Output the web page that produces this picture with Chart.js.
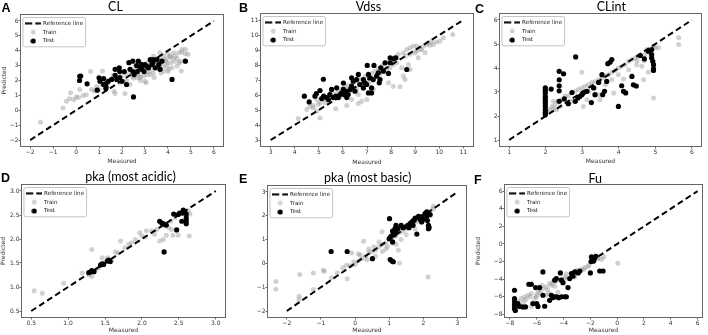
<!DOCTYPE html>
<html lang="en">
  <head>
    <meta charset="UTF-8" />
    <title>Predicted vs measured</title>
    <script src="https://cdn.jsdelivr.net/npm/chart.js@4.4.0/dist/chart.umd.min.js"></script>
    <style>
      body {
        margin: 0;
        width: 708px;
        height: 335px;
        overflow: hidden;
        position: relative;
        background-color: #ffffff;
      }
      canvas {
        position: absolute;
      }
    </style>
  </head>
  <body>
    <canvas id="cA"></canvas>
    <canvas id="cB"></canvas>
    <canvas id="cC"></canvas>
    <canvas id="cD"></canvas>
    <canvas id="cE"></canvas>
    <canvas id="cF"></canvas>

    <script>
      // ---- text ----
      const panelLetters = ["A", "B", "C", "D", "E", "F"];
      const panelTitles = ["CL", "Vdss", "CLint", "pka (most acidic)", "pka (most basic)", "Fu"];
      const legendLabels = ["Reference line", "Train", "Test"];
      const xAxisTitle = "Measured";
      const yAxisTitle = "Predicted";

      // ---- CL ----
      const clTicks = [-2, -1, 0, 1, 2, 3, 4, 5, 6];
      const clRange = [-2.4, 6.4];
      const clRef = [[-2, -2], [6, 6]];
      const clTrain = [
        [-1.55, -0.81], [-0.57, 0.16], [-0.42, 0.61], [-0.28, 0.77], [-0.24, 1.17], [-0.1, 0.7], [0.0, 0.9],
        [0.1, 0.85], [0.16, 1.4], [0.3, 1.0], [0.45, 1.05], [0.63, 2.6], [0.67, 1.4], [0.8, 1.3], [0.89, 1.58],
        [1.0, 1.4], [1.11, 1.73], [1.15, 2.63], [1.3, 1.6], [1.4, 1.85], [1.47, 2.05], [1.62, 2.34], [1.65, 1.28],
        [1.7, 1.12], [1.76, 2.2], [1.84, 2.7], [1.91, 1.85], [1.99, 2.3], [2.06, 1.95], [2.13, 1.12], [2.2, 2.0],
        [2.35, 1.73], [2.5, 2.15], [2.57, 2.97], [2.79, 2.18], [2.79, 3.2], [2.8, 2.0], [2.79, 2.3], [2.93, 2.75],
        [2.95, 2.3], [3.0, 1.95], [3.05, 1.85], [3.1, 2.4], [3.16, 2.6], [3.23, 2.4], [3.37, 2.5], [3.37, 3.2],
        [3.37, 3.63], [3.5, 3.0], [3.52, 2.86], [3.6, 2.75], [3.65, 3.38], [3.65, 3.87], [3.66, 3.08], [3.8, 2.95],
        [3.8, 3.7], [3.81, 3.42], [3.81, 2.63], [3.96, 2.97], [3.96, 3.5], [3.96, 3.2], [4.03, 2.75], [4.1, 3.6],
        [4.1, 3.64], [4.13, 3.2], [4.18, 2.86], [4.25, 3.87], [4.3, 3.3], [4.32, 3.64], [4.4, 2.97], [4.47, 3.87],
        [4.5, 3.2], [4.54, 3.3], [4.58, 2.63], [4.6, 3.9], [4.61, 4.09], [4.76, 3.8], [4.76, 4.1], [4.88, 3.76],
        [2.4, 2.5], [2.6, 2.7], [2.7, 2.45], [3.0, 2.8], [3.2, 3.0], [3.3, 2.75], [3.45, 3.3], [3.55, 3.5],
        [3.7, 3.3], [3.9, 3.3], [4.0, 3.8], [4.2, 3.5], [4.4, 3.5], [2.2, 2.4], [2.45, 2.3], [2.9, 2.9],
        [3.1, 3.2], [2.65, 2.2], [3.4, 2.2], [3.7, 2.5], [4.0, 2.6]
      ];
      const clTest = [
        [0.16, 2.28], [0.15, 2.0], [0.2, 2.3], [0.48, 1.78], [0.92, 1.35], [1.0, 2.18], [1.04, 1.95], [1.2, 2.13],
        [1.2, 1.73], [1.3, 1.8], [1.3, 1.57], [1.3, 1.44], [1.4, 1.95], [1.55, 2.07], [1.7, 2.75], [1.7, 2.35],
        [1.77, 2.07], [1.88, 2.85], [1.9, 2.2], [1.9, 2.6], [2.0, 1.95], [2.1, 2.6], [2.2, 1.73], [2.3, 3.2],
        [2.35, 2.75], [2.47, 3.3], [2.47, 2.6], [2.5, 0.9], [2.53, 2.4], [2.64, 3.0], [2.67, 2.6], [2.71, 3.3],
        [2.79, 2.85], [2.86, 3.07], [2.86, 2.75], [2.96, 2.6], [3.0, 3.07], [3.08, 2.95], [3.15, 2.85], [3.23, 3.4],
        [3.3, 3.07], [3.34, 3.2], [3.37, 3.4], [3.45, 2.85], [3.52, 3.4], [3.6, 3.07], [3.66, 2.75], [3.74, 3.3],
        [4.18, 2.07], [4.76, 3.3]
      ];

      // ---- Vdss ----
      const vdssTicks = [3, 4, 5, 6, 7, 8, 9, 10, 11];
      const vdssRange = [2.6, 11.4];
      const vdssRef = [[3, 3], [11, 11]];
      const vdssTrain = [
        [4.15, 4.43], [4.5, 5.03], [4.63, 5.25], [4.77, 5.3], [4.91, 5.7], [5.05, 5.48], [5.19, 5.7], [5.33, 5.81],
        [5.46, 6.1], [5.6, 6.14], [5.7, 5.08], [5.81, 6.26], [5.95, 6.41], [6.09, 6.55], [6.22, 6.63], [6.36, 5.7],
        [6.43, 6.81], [6.57, 6.92], [6.64, 6.03], [6.71, 7.04], [6.78, 5.59], [6.92, 7.21], [6.99, 5.7], [7.06, 7.3],
        [7.19, 7.44], [7.33, 7.59], [7.47, 7.75], [7.61, 7.93], [7.75, 8.04], [7.89, 8.2], [8.02, 8.37], [8.16, 8.53],
        [8.3, 8.71], [8.37, 6.55], [8.44, 7.82], [8.51, 8.82], [8.58, 7.04], [8.65, 9.04], [8.72, 8.04], [8.79, 9.15],
        [8.92, 9.26], [8.99, 8.82], [9.06, 9.26], [9.13, 8.48], [9.2, 9.04], [9.34, 9.26], [9.41, 8.82], [9.48, 9.37],
        [9.55, 9.49], [9.62, 9.31], [9.69, 9.6], [9.75, 9.37], [10.56, 10.04], [6.16, 6.14], [6.29, 6.26], [6.5, 6.48],
        [6.57, 6.37], [6.78, 6.59], [6.85, 6.7], [7.12, 6.92], [7.26, 7.08], [7.4, 7.26], [7.54, 7.37], [7.68, 7.59],
        [7.82, 7.7], [7.96, 7.82], [8.09, 8.04], [8.23, 8.15], [8.58, 8.59], [8.79, 8.71], [9.06, 8.93], [9.27, 9.04],
        [9.89, 9.53], [10.03, 9.6], [10.17, 9.82], [5.74, 5.92], [5.26, 5.48], [4.98, 5.37], [4.77, 5.14], [4.91, 4.92],
        [5.4, 5.59], [5.95, 5.92], [6.16, 5.3], [6.64, 5.43], [7.26, 6.37], [8.09, 6.59], [8.51, 7.26], [8.79, 7.7],
        [7.89, 6.81], [5.05, 4.47]
      ];
      const vdssTest = [
        [4.4, 5.92], [4.6, 5.54], [4.84, 5.92], [4.9, 6.1], [5.05, 6.3], [5.19, 7.05], [5.12, 5.76], [5.2, 5.93],
        [5.32, 5.83], [5.46, 6.03], [5.53, 6.37], [5.4, 5.7], [5.6, 5.83], [5.71, 5.93], [5.74, 6.48], [5.81, 5.83],
        [5.88, 6.03], [5.95, 6.14], [6.02, 6.37], [6.02, 6.8], [6.05, 6.03], [6.13, 6.25], [6.16, 5.83], [6.22, 6.03],
        [6.3, 6.37], [6.36, 6.59], [6.36, 7.15], [6.43, 6.92], [6.5, 6.25], [6.57, 7.03], [6.64, 7.37], [6.7, 6.7],
        [6.85, 7.03], [6.85, 6.47], [6.92, 6.81], [6.99, 6.7], [7.01, 7.97], [7.06, 7.37], [7.06, 6.14], [7.12, 7.14],
        [7.19, 6.47], [7.19, 6.14], [7.26, 7.03], [7.29, 7.97], [7.4, 7.26], [7.47, 7.48], [7.51, 6.81], [7.54, 7.03],
        [7.57, 7.81], [7.68, 7.59], [7.75, 8.15], [7.89, 7.44], [7.96, 8.48], [7.96, 8.15], [8.1, 8.41], [8.2, 8.48],
        [8.65, 7.7]
      ];

      // ---- CLint ----
      const clintTicks = [1, 2, 3, 4, 5, 6];
      const clintRange = [0.75, 6.25];
      const clintRef = [[1, 1], [6, 6]];
      const clintTrain = [
        [1.99, 2.54], [1.99, 2.33], [1.99, 2.12], [2.04, 2.2], [2.1, 2.26], [2.17, 2.4], [2.21, 2.29], [2.26, 2.47],
        [2.21, 2.61], [2.33, 2.61], [2.44, 2.68], [2.53, 2.82], [2.62, 2.84], [2.72, 2.96], [2.81, 3.03], [2.9, 3.1],
        [2.99, 3.17], [3.03, 2.4], [3.08, 3.24], [2.99, 3.82], [3.13, 2.68], [3.17, 3.3], [3.26, 3.4], [3.35, 3.44],
        [3.45, 3.51], [3.49, 2.68], [3.54, 3.58], [3.63, 3.68], [3.72, 3.72], [3.81, 3.82], [3.86, 2.96], [3.9, 3.9],
        [3.99, 4.0], [4.08, 4.07], [4.13, 3.54], [4.17, 4.14], [4.27, 4.28], [4.36, 4.35], [4.45, 4.42], [4.54, 4.49],
        [4.63, 4.07], [4.68, 3.51], [4.72, 4.56], [4.77, 4.77], [4.81, 3.82], [4.86, 4.63], [4.95, 4.91], [5.0, 4.84],
        [4.95, 2.75], [5.09, 4.84], [5.64, 5.26], [5.64, 4.98], [3.17, 3.03], [3.35, 3.17], [3.63, 3.3], [3.81, 3.51],
        [3.99, 3.72], [4.27, 3.93], [4.49, 4.14], [3.45, 2.89], [2.72, 2.61], [2.4, 2.4], [2.3, 2.26], [4.7, 4.3],
        [4.9, 4.5], [4.5, 4.3], [3.0, 2.95], [2.6, 2.55]
      ];
      const clintTest = [
        [1.99, 3.17], [1.99, 3.07], [1.99, 2.96], [1.99, 2.82], [1.99, 2.71], [1.99, 2.61], [1.99, 2.51], [1.99, 2.4],
        [1.99, 2.26], [1.99, 2.15], [1.99, 2.05], [2.15, 3.12], [2.37, 3.86], [2.37, 3.51], [2.37, 3.26], [2.37, 3.05],
        [2.37, 2.61], [2.49, 3.76], [2.51, 2.71], [2.62, 2.51], [2.72, 2.98], [2.81, 2.61], [2.82, 4.46], [2.88, 2.75],
        [2.94, 2.82], [2.99, 2.89], [3.03, 2.96], [3.13, 3.03], [3.25, 2.56], [3.31, 3.17], [3.35, 2.89], [3.45, 3.4],
        [3.54, 3.72], [3.56, 2.89], [3.61, 3.03], [3.67, 3.44], [3.7, 4.18], [3.76, 4.24], [3.81, 4.35], [3.99, 2.4],
        [4.08, 3.26], [4.13, 3.03], [4.19, 2.96], [4.36, 3.65], [4.4, 3.3], [4.48, 3.25], [4.59, 4.52], [4.7, 4.38],
        [4.81, 4.7], [4.9, 4.77], [4.9, 4.56], [4.9, 4.42], [4.93, 4.28], [4.95, 4.14], [4.95, 3.96], [4.95, 3.9]
      ];

      // ---- pka (most acidic) ----
      const pkaAcidTicks = [0.5, 1.0, 1.5, 2.0, 2.5, 3.0];
      const pkaAcidRange = [0.375, 3.125];
      const pkaAcidRef = [[0.5, 0.5], [3.0, 3.0]];
      const pkaAcidTrain = [
        [0.54, 0.92], [0.65, 0.87], [0.94, 1.08], [1.19, 1.29], [1.28, 1.25], [1.32, 1.78], [1.32, 1.22], [1.37, 1.36],
        [1.41, 1.39], [1.46, 1.61], [1.48, 1.5], [1.53, 1.61], [1.59, 1.54], [1.64, 1.73], [1.68, 1.71], [1.71, 1.96],
        [1.77, 1.82], [1.82, 1.89], [1.86, 1.92], [1.91, 1.99], [1.97, 2.13], [2.0, 2.06], [2.04, 2.04], [2.06, 2.17],
        [2.13, 2.17], [2.17, 2.1], [2.2, 2.2], [2.24, 1.96], [2.29, 1.99], [2.31, 2.27], [2.33, 2.08], [2.36, 2.24],
        [2.39, 2.37], [2.4, 2.2], [2.42, 2.08], [2.45, 2.45], [2.49, 2.08], [2.51, 2.52], [2.58, 2.56], [2.63, 2.59],
        [2.65, 2.52], [2.64, 2.06]
      ];
      const pkaAcidTest = [
        [1.3, 1.31], [1.32, 1.34], [1.35, 1.32], [1.28, 1.3], [1.44, 1.46], [1.46, 1.48], [1.48, 1.47], [1.53, 1.54],
        [1.55, 1.56], [1.57, 1.53], [2.24, 2.37], [2.27, 2.33], [2.3, 2.31], [2.33, 2.29], [2.3, 1.73], [2.43, 2.52],
        [2.47, 2.19], [2.49, 2.51], [2.51, 2.54], [2.55, 2.54], [2.54, 2.37], [2.58, 2.57], [2.6, 2.52], [2.6, 2.44],
        [2.6, 2.38], [2.6, 2.32], [2.56, 2.6]
      ];

      // ---- pka (most basic) ----
      const pkaBaseTicks = [-2, -1, 0, 1, 2, 3];
      const pkaBaseXRange = [-2.55, 3.25];
      const pkaBaseYRange = [-2.25, 3.25];
      const pkaBaseRef = [[-2, -2], [3, 3]];
      const pkaBaseTrain = [
        [-2.32, -0.76], [-2.32, -1.09], [-1.62, -0.47], [-1.64, -1.38], [-1.64, -1.52], [-1.22, -0.4], [-1.22, -1.1],
        [-0.93, -0.29], [-0.9, -0.33], [-0.69, -0.6], [-0.52, -0.4], [-0.23, -0.64], [-0.36, -0.18], [-0.25, -0.08],
        [-0.1, 0.44], [-0.04, 0.06], [0.0, -0.05], [-0.15, -0.1], [0.1, 0.1], [0.1, 0.4], [0.15, 0.35], [0.2, 0.2],
        [0.25, 0.93], [0.3, 0.3], [0.35, 0.15], [0.4, 0.45], [0.4, 0.6], [0.5, 0.5], [0.5, 0.2], [0.55, 0.7],
        [0.6, 0.55], [0.6, 0.3], [0.7, 0.7], [0.7, 0.9], [0.79, 1.33], [0.8, 0.8], [0.8, 0.5], [0.9, 0.85],
        [0.9, 0.6], [0.95, 0.7], [1.0, 1.0], [1.1, 1.1], [1.1, 0.85], [1.2, 1.15], [1.2, 0.8], [1.27, 0.55],
        [1.3, 1.3], [1.3, 0.02], [1.35, 1.0], [1.4, 1.35], [1.5, 1.45], [1.5, 1.2], [1.5, 1.6], [1.6, 1.6],
        [1.7, 1.7], [1.75, 1.45], [1.8, 1.75], [1.9, 1.9], [2.0, 2.0], [2.0, 1.8], [2.1, 2.1], [2.14, -0.57],
        [2.2, 2.2], [2.2, 2.0], [2.29, 2.4], [2.3, 2.3]
      ];
      const pkaBaseTest = [
        [-0.7, 0.5], [-0.23, 0.5], [0.51, 0.2], [1.0, 1.04], [1.01, 1.88], [1.03, 0.16], [1.05, 1.14], [1.08, 0.1],
        [1.1, 1.36], [1.1, 0.9], [1.12, 0.07], [1.12, 1.25], [1.15, 1.2], [1.17, 1.46], [1.2, 1.3], [1.2, 1.6],
        [1.25, 1.45], [1.35, 1.6], [1.4, 1.5], [1.5, 1.55], [1.55, 1.6], [1.58, 1.5], [1.61, 1.67], [1.66, 1.73],
        [1.7, 1.6], [1.71, 1.81], [1.76, 1.9], [1.81, 1.23], [1.86, 1.98], [1.9, 1.85], [1.95, 1.74], [1.95, 1.95],
        [2.0, 1.85], [2.05, 2.09], [2.1, 2.16], [2.1, 1.98], [2.12, 1.8], [2.15, 1.6], [2.15, 1.46], [2.17, 1.5],
        [2.2, 2.05]
      ];

      // ---- Fu ----
      const fuTicks = [-8, -6, -4, -2, 0, 2, 4, 6];
      const fuXRange = [-8.37, 6.33];
      const fuYRange = [-8.3, 6.7];
      const fuRef = [[-2, -2], [6, 6]];
      const fuTrain = [
        [-7.16, -6.21], [-6.91, -6.02], [-6.66, -5.83], [-6.41, -5.64], [-6.16, -6.21], [-5.91, -5.45], [-5.7, -5.6],
        [-5.54, -5.07], [-5.29, -4.88], [-5.04, -4.5], [-4.79, -4.31], [-4.55, -4.2], [-4.42, -5.45], [-4.29, -4.05],
        [-3.92, -3.75], [-3.7, -3.9], [-3.41, -3.56], [-3.16, -3.75], [-2.9, -3.1], [-2.67, -2.91], [-2.42, -2.68],
        [-2.1, -2.41], [-1.42, -1.66], [-1.17, -1.78], [-6.41, -7.1], [-6.1, -6.8], [-6.04, -6.02], [-5.29, -5.83],
        [-5.1, -5.6], [-4.66, -4.8], [0.05, -2.2], [-1.0, -1.45], [-7.4, -6.5], [-7.0, -6.6], [-6.8, -6.3],
        [-6.5, -6.0], [-6.0, -5.8], [-5.8, -5.2], [-5.6, -4.7], [-5.2, -5.2], [-4.9, -4.7], [-4.0, -4.0],
        [-3.8, -3.4], [-3.3, -3.3], [-3.0, -3.0], [-2.5, -2.9], [-2.2, -2.6], [-1.5, -1.6]
      ];
      const fuTest = [
        [-7.66, -5.26], [-7.66, -6.21], [-7.66, -6.59], [-7.66, -6.97], [-7.66, -7.35], [-7.6, -7.55], [-7.41, -6.78],
        [-7.29, -7.1], [-7.04, -7.16], [-6.84, -7.16], [-6.59, -4.58], [-6.41, -4.58], [-6.29, -6.78], [-6.09, -4.96],
        [-6.0, -6.78], [-5.91, -7.1], [-5.79, -4.96], [-5.54, -5.83], [-5.54, -3.18], [-5.41, -7.08], [-5.04, -6.4],
        [-4.91, -5.83], [-4.79, -6.09], [-4.66, -4.12], [-4.54, -3.93], [-4.66, -6.0], [-4.5, -6.0], [-4.36, -6.1],
        [-4.24, -3.29], [-4.16, -4.12], [-4.16, -6.0], [-4.04, -4.4], [-3.91, -6.0], [-3.79, -6.0], [-3.67, -4.96],
        [-3.54, -3.93], [-3.41, -3.37], [-3.29, -3.67], [-3.16, -3.18], [-2.91, -3.29], [-2.79, -3.07], [-2.0, -3.29],
        [-1.92, -1.47], [-1.8, -1.55], [-1.7, -1.65], [-1.85, -1.8], [-1.6, -1.4], [-1.95, -2.0], [-1.75, -1.95],
        [-1.3, -3.07], [-1.05, -3.07]
      ];

      // ---- look ----
      const trainColor = "rgba(140, 140, 140, 0.4)";
      const testColor = "#000000";

      Chart.defaults.font.family = "'DejaVu Sans', sans-serif";

      // box = canvas [left, top, width, height], area = plot frame [left, top, right, bottom] in page px
      const panels = [
        { id: "cA", box: [0, 0, 236, 167], area: [21, 15, 223, 146], letterAt: [1.5, 12.3], titleAt: [115.5, 10.5],
          xTitlePad: 2.1, yTitlePad: 0.6, yTitle: true, digits: 0,
          train: clTrain, test: clTest, ref: clRef, xTicks: clTicks, yTicks: clTicks, xRange: clRange, yRange: clRange },
        { id: "cB", box: [236, 0, 246, 167], area: [261, 14, 473, 146], letterAt: [239, 11.7], titleAt: [368.5, 10.5],
          xTitlePad: 1.1, yTitlePad: 0, yTitle: false, digits: 0,
          train: vdssTrain, test: vdssTest, ref: vdssRef, xTicks: vdssTicks, yTicks: vdssTicks, xRange: vdssRange, yRange: vdssRange },
        { id: "cC", box: [472, 0, 236, 167], area: [500, 14, 701, 146], letterAt: [475, 12.7], titleAt: [611.3, 11],
          xTitlePad: 1.7, yTitlePad: 0, yTitle: false, digits: 0,
          train: clintTrain, test: clintTest, ref: clintRef, xTicks: clintTicks, yTicks: clintTicks, xRange: clintRange, yRange: clintRange },
        { id: "cD", box: [0, 167, 236, 168], area: [22, 185, 225, 317], letterAt: [1, 181.7], titleAt: [130.5, 181],
          xTitlePad: 0.7, yTitlePad: 0, yTitle: true, digits: 1,
          train: pkaAcidTrain, test: pkaAcidTest, ref: pkaAcidRef, xTicks: pkaAcidTicks, yTicks: pkaAcidTicks, xRange: pkaAcidRange, yRange: pkaAcidRange },
        { id: "cE", box: [236, 167, 236, 168], area: [268, 186, 466, 317], letterAt: [239, 183.3], titleAt: [367.7, 182.3],
          xTitlePad: 0.7, yTitlePad: 0, yTitle: false, digits: 0,
          train: pkaBaseTrain, test: pkaBaseTest, ref: pkaBaseRef, xTicks: pkaBaseTicks, yTicks: pkaBaseTicks, xRange: pkaBaseXRange, yRange: pkaBaseYRange },
        { id: "cF", box: [472, 167, 236, 168], area: [505, 185, 702, 317], letterAt: [474, 184.3], titleAt: [595.2, 183.3],
          xTitlePad: 0.7, yTitlePad: 2.7, yTitle: true, digits: 0,
          train: fuTrain, test: fuTest, ref: fuRef, xTicks: fuTicks, yTicks: fuTicks, xRange: fuXRange, yRange: fuYRange }
      ];

      function makeIcon(w, h, draw) {
        const c = document.createElement("canvas");
        c.width = w;
        c.height = h;
        draw(c.getContext("2d"));
        return c;
      }

      const legendIcons = [
        makeIcon(16, 3, (g) => {
          g.strokeStyle = "#000";
          g.lineWidth = 2;
          g.setLineDash([7, 3]);
          g.beginPath();
          g.moveTo(0, 1.5);
          g.lineTo(16, 1.5);
          g.stroke();
        }),
        makeIcon(6, 6, (g) => {
          g.fillStyle = trainColor;
          g.beginPath();
          g.arc(3, 3, 2.4, 0, Math.PI * 2);
          g.fill();
        }),
        makeIcon(6, 6, (g) => {
          g.fillStyle = testColor;
          g.beginPath();
          g.arc(3, 3, 2.6, 0, Math.PI * 2);
          g.fill();
        })
      ];

      const fmt = (v, d) => (v < 0 ? "\u2212" : "") + Math.abs(v).toFixed(d);
      const toPoints = (arr) => arr.map((p) => ({ x: p[0], y: p[1] }));

      // legend placement + frame, plot frame, panel letter and title
      const panelDecor = {
        id: "panelDecor",
        afterLayout(chart) {
          const lg = chart.legend;
          const a = chart.chartArea;
          const w = lg.width;
          lg.left = a.left + 2;
          lg.right = lg.left + w;
          lg.top = a.top + 2.25;
          lg.bottom = a.bottom;
          lg.height = lg.bottom - lg.top;
        },
        beforeDraw(chart) {
          const hb = chart.legend.legendHitBoxes;
          if (!hb || !hb.length) return;
          const ctx = chart.ctx;
          const l = hb[0].left - 3.3;
          const t = hb[0].top - 3;
          const r = Math.max(...hb.map((h) => h.left + h.width)) + 2.5;
          const b = hb[hb.length - 1].top + hb[hb.length - 1].height + 3;
          ctx.save();
          ctx.fillStyle = "rgba(255,255,255,0.8)";
          ctx.strokeStyle = "#c4c4c4";
          ctx.lineWidth = 1;
          ctx.beginPath();
          ctx.roundRect(l, t, r - l, b - t, 2);
          ctx.fill();
          ctx.stroke();
          ctx.restore();
        },
        afterDraw(chart, args, opts) {
          const ctx = chart.ctx;
          const a = chart.chartArea;
          ctx.save();
          ctx.strokeStyle = "#666666";
          ctx.lineWidth = 1;
          ctx.strokeRect(a.left - 0.5, a.top - 0.5, a.right - a.left + 1, a.bottom - a.top + 1);
          ctx.fillStyle = "#000";
          ctx.textBaseline = "alphabetic";
          ctx.textAlign = "left";
          ctx.font = "bold 12.5px 'Liberation Sans', Arial, sans-serif";
          ctx.fillText(opts.letter, opts.letterX, opts.letterY);
          ctx.textAlign = "center";
          ctx.font = "12.5px Lato, sans-serif";
          ctx.fillText(opts.title, opts.titleX, opts.titleY);
          ctx.restore();
        }
      };

      panels.forEach((p, i) => {
        const canvas = document.getElementById(p.id);
        const [bx, by, bw, bh] = p.box;
        canvas.width = bw;
        canvas.height = bh;
        canvas.style.left = bx + "px";
        canvas.style.top = by + "px";
        const leftW = p.area[0] - bx;
        const topH = p.area[1] - by;
        const rightW = bx + bw - p.area[2];
        const bottomH = by + bh - p.area[3];

        const axisCommon = {
          type: "linear",
          grid: { drawOnChartArea: false, drawTicks: true, tickLength: 2.5, color: "#444444", lineWidth: 0.8 },
          border: { display: false },
          ticks: {
            font: { size: 6 },
            color: "#333333",
            padding: 0,
            autoSkip: false,
            maxRotation: 0,
            minRotation: 0,
            callback: (v) => fmt(v, p.digits)
          }
        };

        new Chart(canvas, {
          type: "scatter",
          data: {
            datasets: [
              {
                label: legendLabels[0],
                data: toPoints(p.ref),
                showLine: true,
                borderColor: "#000000",
                borderWidth: 2,
                borderDash: [6, 3.5],
                pointRadius: 0,
                fill: false,
                order: 1
              },
              {
                label: legendLabels[1],
                data: toPoints(p.train),
                backgroundColor: trainColor,
                borderWidth: 0,
                pointRadius: 2.5,
                order: 2
              },
              {
                label: legendLabels[2],
                data: toPoints(p.test),
                backgroundColor: testColor,
                borderWidth: 0,
                pointRadius: 2.6,
                order: 0
              }
            ]
          },
          options: {
            responsive: false,
            animation: false,
            events: [],
            layout: { padding: { top: topH, right: rightW, left: 0, bottom: 0 } },
            scales: {
              x: {
                ...axisCommon,
                position: "bottom",
                min: p.xRange[0],
                max: p.xRange[1],
                afterBuildTicks: (s) => {
                  s.ticks = p.xTicks.map((v) => ({ value: v }));
                },
                afterFit: (s) => {
                  s.height = bottomH;
                },
                title: {
                  display: true,
                  text: xAxisTitle,
                  font: { size: 6 },
                  color: "#333333",
                  padding: { top: 0, bottom: p.xTitlePad }
                }
              },
              y: {
                ...axisCommon,
                position: "left",
                min: p.yRange[0],
                max: p.yRange[1],
                afterBuildTicks: (s) => {
                  s.ticks = p.yTicks.map((v) => ({ value: v }));
                },
                afterFit: (s) => {
                  s.width = leftW;
                },
                title: {
                  display: p.yTitle,
                  text: yAxisTitle,
                  font: { size: 6 },
                  color: "#333333",
                  padding: { top: p.yTitlePad, bottom: 0 }
                }
              }
            },
            plugins: {
              tooltip: { enabled: false },
              legend: {
                position: "chartArea",
                align: "start",
                labels: {
                  usePointStyle: true,
                  pointStyleWidth: 14,
                  padding: 3.25,
                  font: { size: 5.6 },
                  color: "#222222",
                  generateLabels: (chart) =>
                    chart.data.datasets.map((ds, k) => ({
                      text: ds.label,
                      pointStyle: legendIcons[k],
                      datasetIndex: k,
                      hidden: false,
                      fillStyle: "transparent",
                      strokeStyle: "transparent",
                      lineWidth: 0,
                      fontColor: "#222222"
                    }))
                }
              },
              panelDecor: {
                letter: panelLetters[i],
                title: panelTitles[i],
                letterX: p.letterAt[0] - bx,
                letterY: p.letterAt[1] - by,
                titleX: p.titleAt[0] - bx,
                titleY: p.titleAt[1] - by
              }
            }
          },
          plugins: [panelDecor]
        });
      });
    </script>
  </body>
</html>
